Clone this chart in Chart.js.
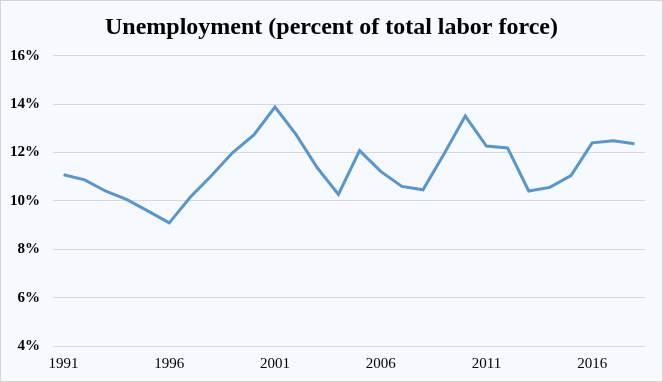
<!DOCTYPE html>
<html>
<head>
<meta charset="utf-8">
<script src="https://cdn.jsdelivr.net/npm/chart.js@4"></script>
<style>
html,body{margin:0;padding:0;background:#fff;}
#wrap{width:663px;height:382px;position:relative;}
</style>
</head>
<body>
<div id="wrap"><canvas id="c" width="663" height="382"></canvas></div>
<script>
const years = [1991,1992,1993,1994,1995,1996,1997,1998,1999,2000,2001,2002,2003,2004,2005,2006,2007,2008,2009,2010,2011,2012,2013,2014,2015,2016,2017,2018];
const unemployment = [11.08,10.87,10.40,10.05,9.58,9.09,10.16,11.05,12.0,12.73,13.88,12.74,11.37,10.27,12.08,11.22,10.60,10.46,11.95,13.51,12.27,12.19,10.41,10.56,11.05,12.40,12.49,12.36];
const yTicks = [4,6,8,10,12,14,16];
const titleText = 'Unemployment (percent of total labor force)';

const bgPlugin = {
  id: 'bg',
  beforeDraw(chart) {
    const ctx = chart.ctx;
    ctx.save();
    ctx.fillStyle = '#F6F9FD';
    ctx.fillRect(0, 0, chart.width, chart.height);
    ctx.strokeStyle = '#D4D4D4';
    ctx.lineWidth = 1;
    ctx.strokeRect(0.5, 0.5, chart.width - 1, chart.height - 1);
    ctx.restore();
  }
};

new Chart(document.getElementById('c'), {
  type: 'line',
  data: {
    labels: years.map(String),
    datasets: [{
      data: unemployment,
      borderColor: '#5B96CB',
      borderWidth: 3,
      pointRadius: 0,
      tension: 0,
      fill: false
    }]
  },
  options: {
    responsive: false,
    animation: false,
    layout: { padding: 0 },
    plugins: {
      legend: { display: false },
      tooltip: { enabled: false },
      title: {
        display: true,
        text: titleText,
        color: '#000',
        font: { family: 'Liberation Serif', size: 24, weight: 'bold' },
        padding: { top: 13, bottom: 14 }
      }
    },
    scales: {
      x: {
        offset: true,
        grid: { display: false, drawTicks: false },
        border: { display: false },
        ticks: {
          autoSkip: false,
          maxRotation: 0,
          padding: 9,
          color: '#000',
          font: { family: 'Liberation Serif', size: 15 },
          callback: function(v, i) { return i % 5 === 0 ? years[i] : ''; }
        },
        afterFit(scale) { scale.height = 36; }
      },
      y: {
        min: 4,
        max: 16,
        afterBuildTicks(scale) { scale.ticks = yTicks.map(v => ({ value: v })); },
        grid: { color: '#D9D9D9', drawTicks: false, lineWidth: 1 },
        border: { display: false },
        ticks: {
          padding: 13,
          color: '#000',
          font: { family: 'Liberation Serif', size: 15, weight: 'bold' },
          callback: v => v + '%'
        },
        afterFit(scale) { scale.width = 53; }
      },
      yRight: {
        position: 'right',
        display: true,
        min: 4,
        max: 16,
        grid: { display: false, drawTicks: false },
        border: { display: false },
        ticks: { display: false },
        afterFit(scale) { scale.width = 18; }
      }
    }
  },
  plugins: [bgPlugin]
});
</script>
</body>
</html>
